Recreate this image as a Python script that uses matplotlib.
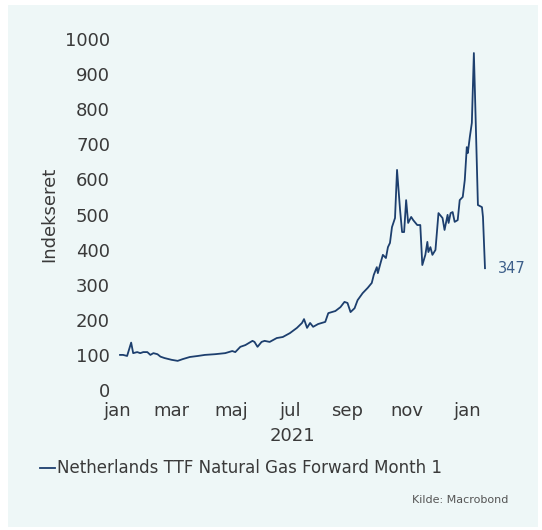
import datetime as dt

import matplotlib
matplotlib.use("Agg")
import matplotlib.pyplot as plt
from matplotlib.patches import Rectangle

# Netherlands TTF Natural Gas Forward Month 1, indexed (2021)
dates = [
    "2021-01-04", "2021-01-07", "2021-01-11", "2021-01-15", "2021-01-17", "2021-01-21",
    "2021-01-24", "2021-01-27", "2021-01-31", "2021-02-03", "2021-02-06", "2021-02-10",
    "2021-02-13", "2021-02-17", "2021-02-24", "2021-03-02", "2021-03-07", "2021-03-14",
    "2021-03-22", "2021-03-29", "2021-04-08", "2021-04-18", "2021-04-25", "2021-04-28",
    "2021-05-03", "2021-05-08", "2021-05-15", "2021-05-17", "2021-05-20", "2021-05-24",
    "2021-05-27", "2021-06-01", "2021-06-08", "2021-06-14", "2021-06-21", "2021-06-28",
    "2021-07-03", "2021-07-05", "2021-07-08", "2021-07-11", "2021-07-14", "2021-07-19",
    "2021-07-26", "2021-07-29", "2021-08-05", "2021-08-10", "2021-08-14", "2021-08-17",
    "2021-08-20", "2021-08-24", "2021-08-27", "2021-09-01", "2021-09-06", "2021-09-10",
    "2021-09-12", "2021-09-15", "2021-09-16", "2021-09-19", "2021-09-21", "2021-09-24",
    "2021-09-26", "2021-09-28", "2021-09-30", "2021-10-03", "2021-10-05", "2021-10-08",
    "2021-10-10", "2021-10-12", "2021-10-14", "2021-10-16", "2021-10-19", "2021-10-21",
    "2021-10-25", "2021-10-28", "2021-10-30", "2021-11-02", "2021-11-04", "2021-11-05",
    "2021-11-07", "2021-11-09", "2021-11-12", "2021-11-15", "2021-11-19", "2021-11-21",
    "2021-11-24", "2021-11-25", "2021-11-27", "2021-11-29", "2021-12-01", "2021-12-04",
    "2021-12-06", "2021-12-09", "2021-12-11", "2021-12-13", "2021-12-14", "2021-12-16",
    "2021-12-18", "2021-12-20", "2021-12-21", "2021-12-24", "2021-12-28", "2021-12-29",
    "2021-12-31",
]
values = [
    100, 100, 97, 135, 105, 108,
    105, 108, 108, 100, 105, 102,
    95, 91, 86, 83, 88, 94,
    97, 100, 102, 105, 111, 108,
    123, 128, 140, 137, 123, 137,
    140, 137, 148, 151, 162, 177,
    191, 202, 177, 191, 180, 188,
    194, 219, 225, 236, 251, 248,
    222, 233, 256, 276, 291, 305,
    328, 350, 333, 365, 385, 376,
    407, 419, 464, 490, 627, 513,
    450, 450, 541, 476, 493, 484,
    470, 470, 356, 385, 422, 393,
    407, 385, 399, 504, 490, 456,
    499, 476, 504, 507, 479, 484,
    541, 550, 598, 692, 675, 721,
    761, 960, 855, 527, 521, 493,
    347,
]
series_name = "Netherlands TTF Natural Gas Forward Month 1"
tick_dates = ["2021-01-01", "2021-02-24", "2021-04-24", "2021-06-21",
              "2021-08-17", "2021-10-15", "2021-12-13"]
tick_labels = ["jan", "mar", "maj", "jul", "sep", "nov", "jan"]
y_ticks = [0, 100, 200, 300, 400, 500, 600, 700, 800, 900, 1000]

LINE = "#1d3f6e"
TEXT = "#3a3a3a"
PANEL = "#eef7f7"

x = [dt.datetime.strptime(d, "%Y-%m-%d") for d in dates]
xt = [dt.datetime.strptime(d, "%Y-%m-%d") for d in tick_dates]

plt.rcParams["font.family"] = ["DejaVu Sans"]

W, H = 542, 530
fig = plt.figure(figsize=(W / 100, H / 100), dpi=100)
fig.patch.set_facecolor("white")
fig.patches.append(Rectangle((8 / W, 3 / H), 530 / W, 522 / H, transform=fig.transFigure,
                             facecolor=PANEL, edgecolor="none", zorder=-5))

ax = fig.add_axes([117 / W, 140 / H, 369 / W, 351 / H])
ax.set_zorder(2)
ax.set_facecolor("none")
ax.plot(x, values, color=LINE, linewidth=1.3)
ax.set_xlim(dt.datetime(2021, 1, 1), dt.datetime(2022, 1, 1))
ax.set_ylim(0, 1000)
ax.set_yticks(y_ticks)
ax.set_xticks(xt)
ax.set_xticklabels(tick_labels)
for s in ax.spines.values():
    s.set_visible(False)
ax.tick_params(axis="both", length=0, labelsize=13, labelcolor=TEXT)
ax.tick_params(axis="y", pad=5)
ax.tick_params(axis="x", pad=9)
ax.set_ylabel("Indekseret", fontsize=13, color=TEXT, labelpad=5)

ax.annotate(f"{values[-1]}", xy=(x[-1], values[-1]), xytext=(9, 0),
            textcoords="offset points", va="center", ha="left",
            fontsize=10.5, color="#3d5f8a", annotation_clip=False)

fig.text(292 / W, 1 - 436 / H, "2021", ha="center", va="center", fontsize=13, color=TEXT)

fig.lines.append(plt.Line2D([40 / W, 55 / W], [1 - 468 / H] * 2, transform=fig.transFigure,
                            color=LINE, linewidth=1.3))
fig.text(57 / W, 1 - 468 / H, series_name, ha="left", va="center", fontsize=12, color=TEXT)
fig.text(508 / W, 1 - 500 / H, "Kilde: Macrobond", ha="right", va="center",
         fontsize=8, color="#555555")

fig.savefig("out.png", dpi=100, facecolor="white")
